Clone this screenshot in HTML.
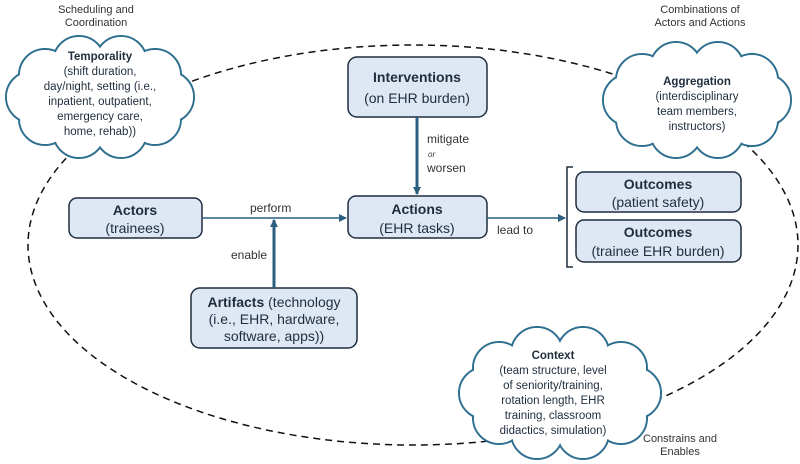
<!DOCTYPE html>
<html><head><meta charset="utf-8"><style>
html,body{margin:0;padding:0;background:#fff}
svg{display:block;font-family:"Liberation Sans",sans-serif}
</style></head><body>
<svg width="800" height="464" viewBox="0 0 800 464" xmlns="http://www.w3.org/2000/svg">
<defs>
<marker id="ah" markerWidth="8" markerHeight="8" refX="7" refY="4" orient="auto" markerUnits="userSpaceOnUse"><path d="M0,0 L8,4 L0,8 z" fill="#2a5f80"/></marker>
</defs>
<ellipse cx="413" cy="245" rx="385" ry="200" fill="none" stroke="#111" stroke-width="1.5" stroke-dasharray="7,5"/>

<!-- clouds -->
<g stroke="#2f6f8f" stroke-width="2" fill="#fff">
<circle cx="168" cy="97" r="26"/><circle cx="155" cy="119" r="26"/><circle cx="121" cy="132" r="26"/><circle cx="79" cy="132" r="26"/><circle cx="45" cy="119" r="26"/><circle cx="32" cy="97" r="26"/><circle cx="45" cy="75" r="26"/><circle cx="79" cy="62" r="26"/><circle cx="121" cy="62" r="26"/><circle cx="155" cy="75" r="26"/>
<circle cx="765" cy="100" r="26"/><circle cx="752" cy="120" r="26"/><circle cx="718" cy="132" r="26"/><circle cx="676" cy="132" r="26"/><circle cx="642" cy="120" r="26"/><circle cx="629" cy="100" r="26"/><circle cx="642" cy="80" r="26"/><circle cx="676" cy="68" r="26"/><circle cx="718" cy="68" r="26"/><circle cx="752" cy="80" r="26"/>
<circle cx="635" cy="393" r="26"/><circle cx="621" cy="418" r="26"/><circle cx="583" cy="433" r="26"/><circle cx="537" cy="433" r="26"/><circle cx="499" cy="418" r="26"/><circle cx="485" cy="393" r="26"/><circle cx="499" cy="368" r="26"/><circle cx="537" cy="353" r="26"/><circle cx="583" cy="353" r="26"/><circle cx="621" cy="368" r="26"/>
</g>
<g fill="#fff">
<circle cx="168" cy="97" r="25"/><circle cx="155" cy="119" r="25"/><circle cx="121" cy="132" r="25"/><circle cx="79" cy="132" r="25"/><circle cx="45" cy="119" r="25"/><circle cx="32" cy="97" r="25"/><circle cx="45" cy="75" r="25"/><circle cx="79" cy="62" r="25"/><circle cx="121" cy="62" r="25"/><circle cx="155" cy="75" r="25"/>
<circle cx="765" cy="100" r="25"/><circle cx="752" cy="120" r="25"/><circle cx="718" cy="132" r="25"/><circle cx="676" cy="132" r="25"/><circle cx="642" cy="120" r="25"/><circle cx="629" cy="100" r="25"/><circle cx="642" cy="80" r="25"/><circle cx="676" cy="68" r="25"/><circle cx="718" cy="68" r="25"/><circle cx="752" cy="80" r="25"/>
<circle cx="635" cy="393" r="25"/><circle cx="621" cy="418" r="25"/><circle cx="583" cy="433" r="25"/><circle cx="537" cy="433" r="25"/><circle cx="499" cy="418" r="25"/><circle cx="485" cy="393" r="25"/><circle cx="499" cy="368" r="25"/><circle cx="537" cy="353" r="25"/><circle cx="583" cy="353" r="25"/><circle cx="621" cy="368" r="25"/>
<ellipse cx="100" cy="97" rx="70" ry="40"/><ellipse cx="697" cy="100" rx="70" ry="38"/><ellipse cx="560" cy="393" rx="78" ry="44"/>
</g>

<g font-size="11" fill="#333" text-anchor="middle">
<text x="96" y="13">Scheduling and</text><text x="96" y="26">Coordination</text>
<text x="700" y="13">Combinations of</text><text x="700" y="26">Actors and Actions</text>
<text x="680" y="442">Constrains and</text><text x="680" y="455">Enables</text>
</g>
<g font-size="11.5" fill="#1f2d3d" text-anchor="middle">
<text x="100" y="60" font-weight="bold">Temporality</text>
<text x="100" y="75">(shift duration,</text><text x="100" y="90">day/night, setting (i.e.,</text><text x="100" y="105">inpatient, outpatient,</text><text x="100" y="120">emergency care,</text><text x="100" y="135">home, rehab))</text>
<text x="697" y="85" font-weight="bold">Aggregation</text>
<text x="697" y="100">(interdisciplinary</text><text x="697" y="115">team members,</text><text x="697" y="130">instructors)</text>
<text x="553" y="359" font-weight="bold">Context</text>
<text x="553" y="374">(team structure, level</text><text x="553" y="389">of seniority/training,</text><text x="553" y="404">rotation length, EHR</text><text x="553" y="419">training, classroom</text><text x="553" y="434">didactics, simulation)</text>
</g>

<!-- boxes -->
<g fill="#dde8f4" stroke="#1f2d3d" stroke-width="1.5">
<rect x="348" y="57" width="139" height="60" rx="9"/>
<rect x="348" y="196" width="139" height="42" rx="8"/>
<rect x="69" y="198" width="133" height="40" rx="8"/>
<rect x="191" y="288" width="166" height="60" rx="9"/>
<rect x="576" y="172" width="165" height="40" rx="8"/>
<rect x="576" y="220" width="165" height="42" rx="8"/>
</g>
<path d="M573,167 L567,167 L567,267 L573,267" fill="none" stroke="#1f2d3d" stroke-width="1.5"/>

<g font-size="14" fill="#1f2d3d" text-anchor="middle">
<text x="417" y="82" font-weight="bold">Interventions</text><text x="417" y="103">(on EHR burden)</text>
<text x="417" y="214" font-weight="bold">Actions</text><text x="417" y="233">(EHR tasks)</text>
<text x="135" y="215" font-weight="bold">Actors</text><text x="135" y="233">(trainees)</text>
<text x="274" y="307"><tspan font-weight="bold">Artifacts</tspan> (technology</text><text x="274" y="324">(i.e., EHR, hardware,</text><text x="274" y="341">software, apps))</text>
<text x="658" y="189" font-weight="bold">Outcomes</text><text x="658" y="207">(patient safety)</text>
<text x="658" y="237" font-weight="bold">Outcomes</text><text x="658" y="256">(trainee EHR burden)</text>
</g>

<!-- arrows -->
<g stroke="#2a5f80" fill="none">
<line x1="417" y1="117" x2="417" y2="194" stroke-width="3" marker-end="url(#ah)"/>
<line x1="202" y1="218" x2="346" y2="218" stroke-width="1.5" marker-end="url(#ah)"/>
<line x1="274" y1="288" x2="274" y2="220" stroke-width="3" marker-end="url(#ah)"/>
<line x1="487" y1="218" x2="565" y2="218" stroke-width="1.5" marker-end="url(#ah)"/>
</g>
<g font-size="12" fill="#333">
<text x="427" y="143">mitigate</text><text x="428" y="157" font-size="8" font-style="italic">or</text><text x="427" y="172">worsen</text>
<text x="250" y="212">perform</text>
<text x="231" y="259">enable</text>
<text x="497" y="234">lead to</text>
</g>
</svg>
</body></html>
